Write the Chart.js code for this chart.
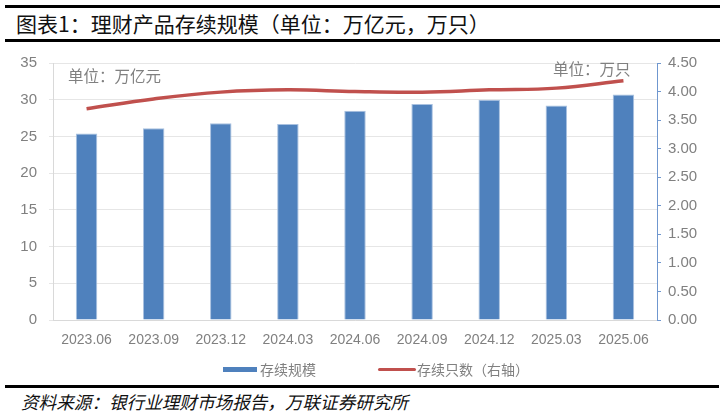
<!DOCTYPE html>
<html>
<head>
<meta charset="utf-8">
<script src="https://cdn.jsdelivr.net/npm/chart.js@4.4.1/dist/chart.umd.min.js"></script>
<style>
  body { margin: 0; background: #fff; width: 725px; height: 419px; position: relative; overflow: hidden; font-family: "Noto Sans CJK SC", sans-serif; }
  .rule { position: absolute; left: 5px; width: 715px; height: 3px; background: #000; }
  .title { position: absolute; left: 16px; top: 12px; font-size: 21px; line-height: 23px; color: #111; white-space: nowrap; }
  .source { position: absolute; left: 21px; top: 392px; font-size: 17.6px; line-height: 19px; font-style: italic; color: #111; white-space: nowrap; }
  .unit { position: absolute; font-size: 15.5px; line-height: 16px; color: #808080; white-space: nowrap; }
  #wrap { position: absolute; left: 12px; top: 48px; width: 693px; height: 337px; }
  .legend { position: absolute; top: 361px; font-size: 14px; line-height: 16px; color: #808080; white-space: nowrap; }
  .swatch { position: absolute; }
</style>
</head>
<body>
<div class="rule" style="top:5px"></div>
<div class="title">图表1：理财产品存续规模（单位：万亿元，万只）</div>
<div class="rule" style="top:39px"></div>

<div id="wrap"><canvas id="scaleChart"></canvas></div>
<div class="unit" style="left:68px; top:67px">单位：万亿元</div>
<div class="unit" style="left:553px; top:60px">单位：万只</div>

<div class="swatch" id="barSwatch" style="left:223px; top:367px; width:34px; height:5px"></div>
<div class="legend" style="left:260px">存续规模</div>
<div class="swatch" id="lineSwatch" style="left:378px; top:368px; width:38px; height:3px; border-radius:2px"></div>
<div class="legend" style="left:417px">存续只数（右轴）</div>

<div class="rule" style="top:385px; width:714px"></div>
<div class="source">资料来源：银行业理财市场报告，万联证券研究所</div>

<script>
// categories and values
var quarters = ["2023.06", "2023.09", "2023.12", "2024.03", "2024.06", "2024.09", "2024.12", "2025.03", "2025.06"];
var scaleValues = [25.4, 26.1, 26.8, 26.7, 28.5, 29.4, 30.0, 29.2, 30.7]; // 万亿元
var countValues = [3.70, 3.87, 3.99, 4.03, 4.00, 3.99, 4.03, 4.06, 4.19]; // 万只, right axis

var barColor = "#4f81bd";
var lineColor = "#c0504d";
var tickColor = "#808080";

document.getElementById("barSwatch").style.background = barColor;
document.getElementById("lineSwatch").style.background = lineColor;

// fix an axis to a set width and drop the extra room chart.js keeps for end labels
function fixWidth(w) {
  return function (axis) {
    axis.width = w;
    axis.paddingTop = 0;
    axis.paddingBottom = 0;
  };
}

var ctx = document.getElementById("scaleChart").getContext("2d");

var scaleChart = new Chart(ctx, {
  type: "bar",
  data: {
    labels: quarters,
    datasets: [
      {
        type: "line",
        label: "存续只数（右轴）",
        data: countValues,
        yAxisID: "y1",
        borderColor: lineColor,
        borderWidth: 3.5,
        pointRadius: 0,
        tension: 0.4,
        fill: false,
        order: 0,
      },
      {
        label: "存续规模",
        data: scaleValues,
        yAxisID: "y",
        backgroundColor: barColor,
        borderColor: "#a9c1e0",
        borderWidth: 1,
        categoryPercentage: 1,
        barPercentage: 0.32,
        order: 1,
      },
    ],
  },
  options: {
    responsive: true,
    maintainAspectRatio: false,
    animation: false,
    layout: { padding: { top: 15, left: 0, right: 0, bottom: 0 } },
    scales: {
      x: {
        grid: { display: false, drawTicks: false },
        border: { color: "#d9d9d9" },
        ticks: {
          color: tickColor,
          padding: 12,
          maxRotation: 0,
          autoSkip: false,
          font: { family: "Liberation Sans", size: 14 },
        },
        afterFit: function (axis) { axis.height = 65; },
      },
      y: {
        position: "left",
        min: 0,
        max: 35,
        grid: { color: "#e6e6e6", tickLength: 4 },
        border: { color: "#d9d9d9" },
        ticks: {
          stepSize: 5,
          color: tickColor,
          padding: 12,
          font: { family: "Liberation Sans", size: 15 },
        },
        afterFit: fixWidth(41),
      },
      y1: {
        position: "right",
        min: 0,
        max: 4.5,
        grid: { drawOnChartArea: false, color: "#6f97cf", tickLength: 4 },
        border: { color: "#6f97cf" },
        ticks: {
          stepSize: 0.5,
          color: tickColor,
          padding: 7,
          font: { family: "Liberation Sans", size: 15 },
          callback: function (v) { return v.toFixed(2); },
        },
        afterFit: fixWidth(48),
      },
    },
    plugins: {
      legend: { display: false },
      tooltip: { enabled: false },
    },
  },
});
</script>
</body>
</html>
